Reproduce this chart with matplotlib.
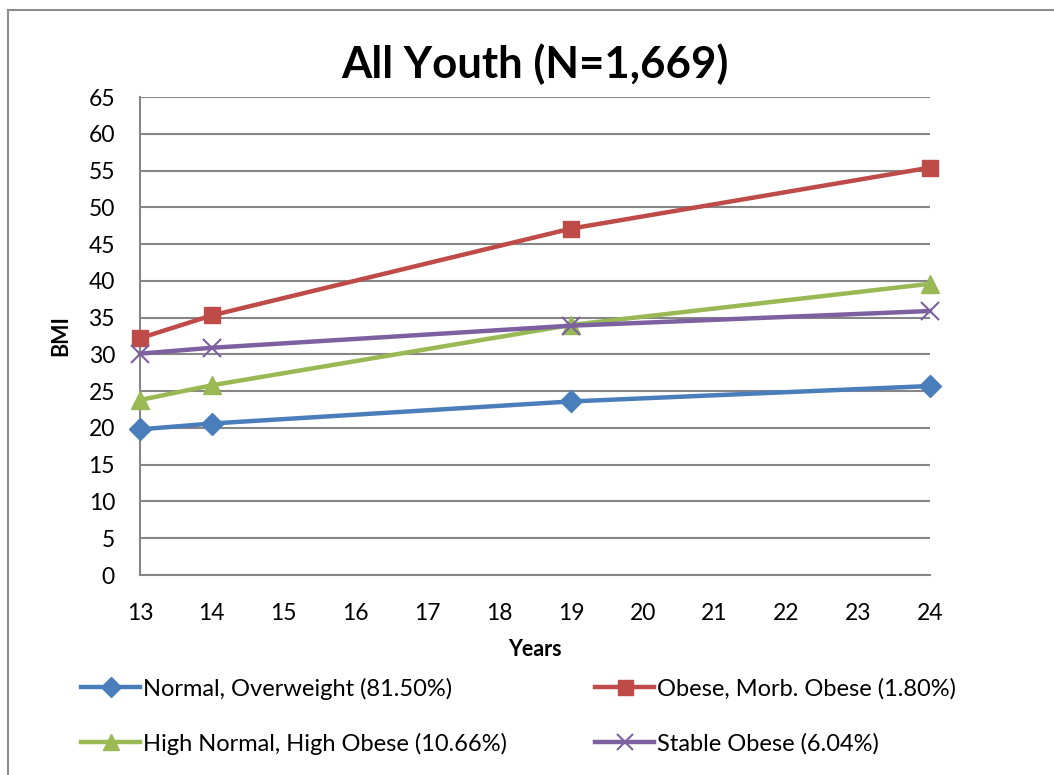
import matplotlib.pyplot as plt
from matplotlib.patches import Rectangle

# data
years = [13, 14, 19, 24]
normal_overweight = [19.8, 20.6, 23.6, 25.7]
obese_morb = [32.2, 35.3, 47.1, 55.4]
high_normal_high_obese = [23.8, 25.8, 34.0, 39.6]
stable_obese = [30.1, 30.9, 33.9, 35.9]

labels = ['Normal, Overweight (81.50%)', 'Obese, Morb. Obese (1.80%)',
          'High Normal, High Obese (10.66%)', 'Stable Obese (6.04%)']
x_ticks = list(range(13, 25))
y_ticks = list(range(0, 70, 5))

plt.rcParams['font.family'] = ['Lato', 'DejaVu Sans']

fig = plt.figure(figsize=(10.54, 7.75), dpi=100)
ax = fig.add_axes([140 / 1054, 200 / 775, 790 / 1054, 478 / 775])

# outer chart border (Excel chart area)
fig.patches.append(Rectangle((8 / 1054, -0.05), 1.1, 1 - 10 / 775 + 0.05,
                             transform=fig.transFigure, fill=False,
                             edgecolor='#8c8c8c', linewidth=1.5))

lw = 3.2
ax.plot(years, normal_overweight, color='#4A7EBB', linewidth=lw, marker='D',
        markersize=11, label=labels[0], zorder=3, clip_on=False)
ax.plot(years, obese_morb, color='#BE4B48', linewidth=lw, marker='s',
        markersize=12, label=labels[1], zorder=3, clip_on=False)
ax.plot(years, high_normal_high_obese, color='#98B954', linewidth=lw, marker='^',
        markersize=13, label=labels[2], zorder=3, clip_on=False)
ax.plot(years, stable_obese, color='#7D60A0', linewidth=lw, marker='x',
        markersize=13, markeredgewidth=1.5, label=labels[3], zorder=3,
        clip_on=False)

ax.set_xlim(13, 24)
ax.set_ylim(0, 65)
ax.set_xticks(x_ticks)
ax.set_yticks(y_ticks)
ax.tick_params(length=0, labelsize=16.5)
ax.tick_params(axis='y', pad=18)
ax.tick_params(axis='x', pad=20)
ax.grid(axis='y', color='#868686', linewidth=1.5)
ax.set_axisbelow(True)
for side in ['top', 'right']:
    ax.spines[side].set_visible(False)
for side in ['left', 'bottom']:
    ax.spines[side].set_color('#868686')
    ax.spines[side].set_linewidth(1.5)

ax.set_xlabel('Years', fontsize=15.5, fontweight='bold', labelpad=11)
ax.set_ylabel('BMI', fontsize=15.5, fontweight='bold', labelpad=12)
ax.set_title('All Youth (N=1,669)', fontsize=31.5, fontweight='bold', pad=14)

handles, lbls = ax.get_legend_handles_labels()
order = [0, 2, 1, 3]  # row-wise like the reference
fig.legend([handles[i] for i in order], [lbls[i] for i in order], ncol=2,
           loc='center left', bbox_to_anchor=(60 / 1054, 0.076),
           frameon=False, fontsize=17, handlelength=2.5, handletextpad=0.1,
           columnspacing=3.75, labelspacing=1.4, markerscale=0.9)

fig.savefig('out.png', dpi=100)
